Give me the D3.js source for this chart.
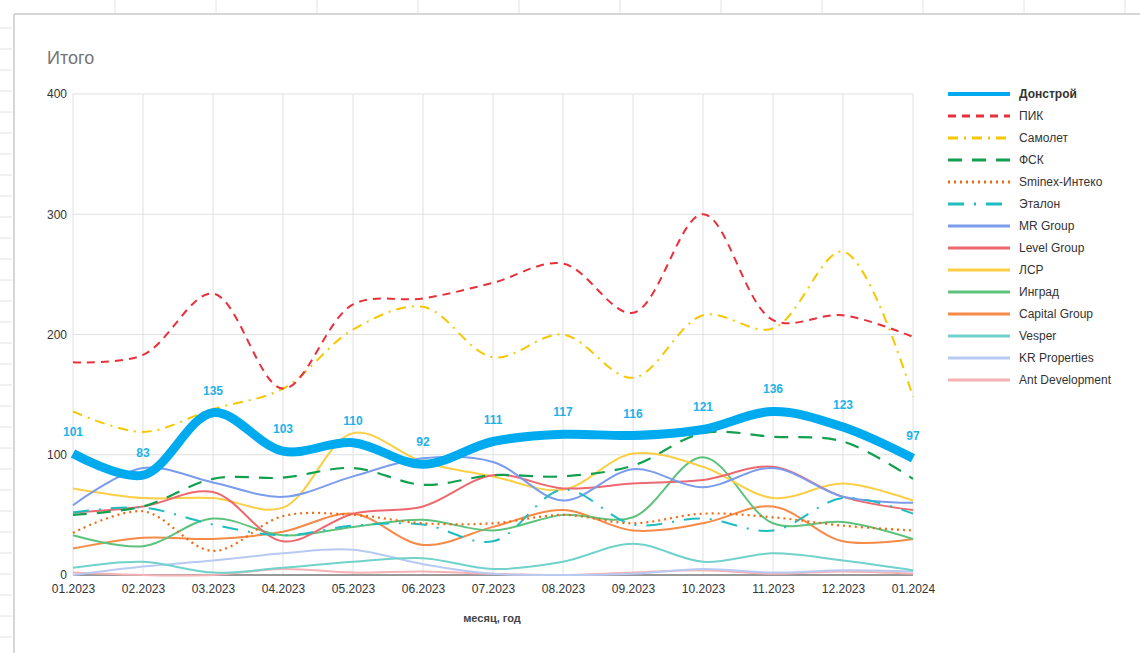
<!DOCTYPE html>
<html>
<head>
<meta charset="utf-8">
<script src="https://cdn.jsdelivr.net/npm/d3@7"></script>
<style>
  body { margin: 0; background: #fff; font-family: Arial, "Liberation Sans", sans-serif; }
</style>
</head>
<body>
<div id="chart"></div>
<script>
// Months on the x axis
const months = ["01.2023", "02.2023", "03.2023", "04.2023", "05.2023", "06.2023", "07.2023",
  "08.2023", "09.2023", "10.2023", "11.2023", "12.2023", "01.2024"];

const yTicks = [0, 100, 200, 300, 400];

// Series values
const donstroy = [101, 83, 135, 103, 110, 92, 111, 117, 116, 121, 136, 123, 97];
const pik = [177, 183, 234, 155, 225, 230, 243, 259, 218, 300, 212, 216, 198];
const samolet = [136, 119, 138, 155, 204, 223, 181, 200, 164, 216, 205, 269, 148];
const fsk = [50, 57, 80, 81, 89, 75, 83, 82, 91, 118, 115, 111, 80];
const sminex = [35, 53, 20, 49, 50, 43, 43, 50, 43, 51, 48, 41, 37];
const etalon = [52, 56, 42, 33, 41, 42, 28, 71, 42, 47, 37, 64, 51];
const mrGroup = [58, 89, 77, 65, 82, 97, 94, 62, 88, 73, 89, 65, 60];
const levelGroup = [52, 57, 69, 28, 51, 57, 83, 72, 76, 79, 90, 65, 54];
const lsr = [72, 64, 64, 56, 118, 94, 82, 71, 101, 90, 64, 76, 62];
const ingrad = [33, 24, 47, 33, 40, 46, 37, 50, 48, 98, 43, 44, 30];
const capitalGroup = [22, 31, 30, 36, 51, 25, 40, 54, 37, 43, 57, 28, 30];
const vesper = [6, 11, 2, 6, 11, 14, 5, 11, 26, 11, 18, 12, 4];
const krProperties = [0, 7, 12, 18, 21, 9, 1, 0, 1, 5, 2, 4, 3];
const antDevelopment = [2, 0, 0, 5, 2, 3, 1, 0, 2, 4, 1, 3, 1];

const series = [
  { name: "Донстрой", values: donstroy, color: "#00aaee", width: 9, dash: null, bold: true },
  { name: "ПИК", values: pik, color: "#e8303a", width: 2, dash: "8,6" },
  { name: "Самолет", values: samolet, color: "#f6c700", width: 2, dash: "10,6,2,6" },
  { name: "ФСК", values: fsk, color: "#10a04e", width: 2.2, dash: "14,10" },
  { name: "Sminex-Интеко", values: sminex, color: "#f26a10", width: 2.2, dash: "2,4" },
  { name: "Эталон", values: etalon, color: "#1fbcc0", width: 2, dash: "16,10,2,10" },
  { name: "MR Group", values: mrGroup, color: "#7b9cec", width: 2, dash: null },
  { name: "Level Group", values: levelGroup, color: "#ee6870", width: 2, dash: null },
  { name: "ЛСР", values: lsr, color: "#fbcf45", width: 2, dash: null },
  { name: "Инград", values: ingrad, color: "#5cc27c", width: 2, dash: null },
  { name: "Capital Group", values: capitalGroup, color: "#f68a48", width: 2, dash: null },
  { name: "Vesper", values: vesper, color: "#70d2ca", width: 2, dash: null },
  { name: "KR Properties", values: krProperties, color: "#b8c9f2", width: 2, dash: null },
  { name: "Ant Development", values: antDevelopment, color: "#f6b2b5", width: 2, dash: null }
];

const W = 1140, H = 653;
const svg = d3.select("#chart").append("svg")
  .attr("width", W).attr("height", H);

// spreadsheet frame around the chart
const frame = svg.append("g");
frame.append("line").attr("x1", 14).attr("x2", W).attr("y1", 14).attr("y2", 14)
  .style("stroke", "#c8c8c8").style("stroke-width", 1.5);
frame.append("line").attr("x1", 14).attr("x2", 14).attr("y1", 14).attr("y2", H)
  .style("stroke", "#c8c8c8").style("stroke-width", 1.5);
d3.range(115, W, 101).forEach(x => {
  frame.append("line").attr("x1", x).attr("x2", x).attr("y1", 0).attr("y2", 13)
    .style("stroke", "#e2e2e2");
});
d3.range(28, H, 21).forEach(y => {
  frame.append("line").attr("x1", 0).attr("x2", 12).attr("y1", y).attr("y2", y)
    .style("stroke", "#e2e2e2");
});

// Title
svg.append("text")
  .attr("x", 47).attr("y", 64)
  .style("font-size", "18px")
  .style("fill", "#757575")
  .text("Итого");

const x = d3.scalePoint().domain(months).range([73, 913]);
const y = d3.scaleLinear().domain([0, 400]).range([575, 94]);

// Grid
const grid = svg.append("g");
grid.selectAll(".vg").data(months).enter().append("line")
  .attr("x1", d => x(d)).attr("x2", d => x(d))
  .attr("y1", y(400)).attr("y2", y(0))
  .style("stroke", "#e0e0e0");
grid.selectAll(".hg").data(yTicks).enter().append("line")
  .attr("x1", x.range()[0]).attr("x2", x.range()[1])
  .attr("y1", d => y(d)).attr("y2", d => y(d))
  .style("stroke", d => d === 0 ? "#333" : "#e0e0e0")
  .style("stroke-width", d => d === 0 ? 1.2 : 1);

// Axes
const yAxis = svg.append("g")
  .attr("transform", `translate(${x.range()[0] - 6},0)`)
  .call(d3.axisLeft(y).tickValues(yTicks).tickSize(0).tickPadding(0));
yAxis.select(".domain").remove();
yAxis.selectAll("text").style("font-size", "12px").style("fill", "#333")
  .style("font-family", "Arial, 'Liberation Sans', sans-serif");

const xAxis = svg.append("g")
  .attr("transform", `translate(0,${y(0)})`)
  .call(d3.axisBottom(x).tickSize(0).tickPadding(9));
xAxis.select(".domain").remove();
xAxis.selectAll("text").style("font-size", "12px").style("fill", "#333")
  .style("font-family", "Arial, 'Liberation Sans', sans-serif");

svg.append("text")
  .attr("x", 492).attr("y", 622)
  .attr("text-anchor", "middle")
  .style("font-size", "11px")
  .style("font-weight", "bold")
  .style("fill", "#444")
  .text("месяц, год");

// Lines (draw small ones first, Донстрой last on top)
const line = d3.line()
  .x((d, i) => x(months[i]))
  .y(d => y(d))
  .curve(d3.curveCatmullRom.alpha(0.5));

const plot = svg.append("g");
series.slice().reverse().forEach(s => {
  plot.append("path")
    .datum(s.values)
    .attr("d", line)
    .style("fill", "none")
    .style("stroke", s.color)
    .style("stroke-width", s.width)
    .style("stroke-dasharray", s.dash);
});

// Data labels for Донстрой
plot.selectAll(".lbl").data(donstroy).enter().append("text")
  .attr("x", (d, i) => x(months[i]))
  .attr("y", d => y(d) - 18)
  .attr("text-anchor", "middle")
  .style("font-size", "12px")
  .style("font-weight", "bold")
  .style("fill", "#1cb2ea")
  .text(d => d);

// Legend
const legend = svg.append("g");
series.forEach((s, i) => {
  const ly = 94 + i * 22;
  legend.append("line")
    .attr("x1", 948).attr("x2", 1010)
    .attr("y1", ly).attr("y2", ly)
    .style("stroke", s.color)
    .style("stroke-width", s.name === "Донстрой" ? 4 : 3)
    .style("stroke-dasharray", s.dash);
  legend.append("text")
    .attr("x", 1019).attr("y", ly + 4)
    .style("font-size", "12px")
    .style("font-weight", s.bold ? "bold" : "normal")
    .style("fill", "#333")
    .text(s.name);
});
</script>
</body>
</html>
